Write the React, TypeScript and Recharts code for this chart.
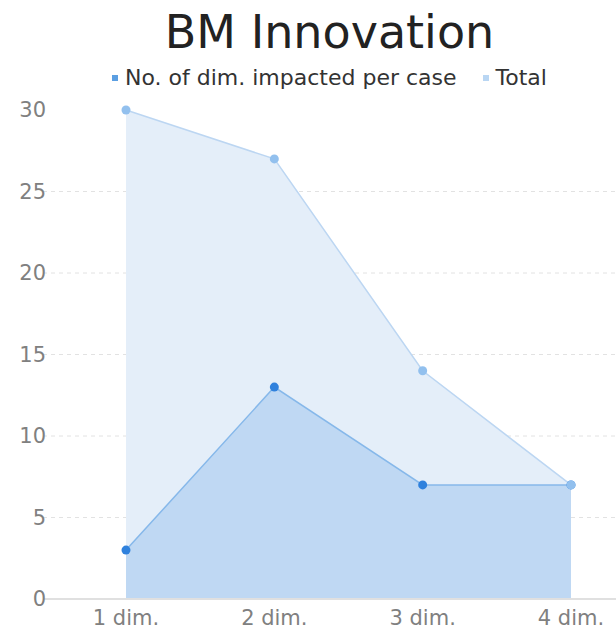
import React from "react";
import { ComposedChart, Area, Line, XAxis, YAxis, CartesianGrid } from "recharts";

const categories = ["1 dim.", "2 dim.", "3 dim.", "4 dim."];
const perCase = [3, 13, 7, 7];
const totals = [30, 27, 14, 7];
const yTicks = [0, 5, 10, 15, 20, 25, 30];

const data = categories.map((name, i) => ({ name, perCase: perCase[i], total: totals[i] }));

const FONT = "'DejaVu Sans', sans-serif";

const YTick = (props: any) => {
  const { y, payload } = props;
  return (
    <text x={46} y={y} dy={7} textAnchor="end" fontSize={21} fill="#808080" fontFamily={FONT}>
      {payload.value}
    </text>
  );
};

const XTick = (props: any) => {
  const { x, y, payload } = props;
  return (
    <text x={x} y={y} dy={18} textAnchor="middle" fontSize={21} fill="#808080" fontFamily={FONT}>
      {payload.value}
    </text>
  );
};

export default function App() {
  return (
    <div style={{ position: "absolute", left: 0, top: 0, width: 616, height: 633, background: "#fff", fontFamily: FONT }}>
      {/* title and legend are centred over the plot area */}
      <div style={{ position: "absolute", top: 4, left: 43, width: 573, textAlign: "center", fontSize: 46, color: "#222", lineHeight: "56px" }}>
        BM Innovation
      </div>
      <div style={{ position: "absolute", top: 64, left: 43, width: 573, display: "flex", justifyContent: "center", alignItems: "center", fontSize: 22, color: "#333", lineHeight: "28px" }}>
        <span style={{ display: "inline-block", width: 6, height: 6, background: "#5b9fe2", marginRight: 7 }} />
        <span style={{ marginRight: 26 }}>No. of dim. impacted per case</span>
        <span style={{ display: "inline-block", width: 6, height: 6, background: "#b9d6f3", marginRight: 7 }} />
        <span>Total</span>
      </div>
      <ComposedChart width={616} height={633} data={data} margin={{ top: 110, right: 0, left: 0, bottom: 4 }}>
        <CartesianGrid vertical={false} horizontalValues={[5, 10, 15, 20, 25]} stroke="#e2e2e2" strokeDasharray="4 4" />
        <XAxis
          dataKey="name"
          height={30}
          padding={{ left: 83, right: 45 }}
          tickLine={false}
          axisLine={{ stroke: "#e0e0e0", strokeWidth: 2 }}
          tick={<XTick />}
          interval={0}
        />
        <YAxis
          width={43}
          domain={[0, 30]}
          ticks={yTicks}
          tickLine={false}
          axisLine={false}
          tick={<YTick />}
          interval={0}
        />
        <Area
          type="linear"
          dataKey="total"
          stroke="#bcd6f2"
          strokeWidth={1.5}
          fill="#e4eef9"
          fillOpacity={1}
          dot={false}
          activeDot={false}
          isAnimationActive={false}
        />
        <Area
          type="linear"
          dataKey="perCase"
          stroke="#86b8ea"
          strokeWidth={1.5}
          fill="#bfd8f3"
          fillOpacity={1}
          dot={{ r: 4.5, fill: "#2f81dd", stroke: "none" }}
          activeDot={false}
          isAnimationActive={false}
        />
        {/* total markers sit above both fills */}
        <Line
          type="linear"
          dataKey="total"
          stroke="none"
          dot={{ r: 4.5, fill: "#92c0ee", stroke: "none" }}
          activeDot={false}
          legendType="none"
          isAnimationActive={false}
        />
      </ComposedChart>
    </div>
  );
}
